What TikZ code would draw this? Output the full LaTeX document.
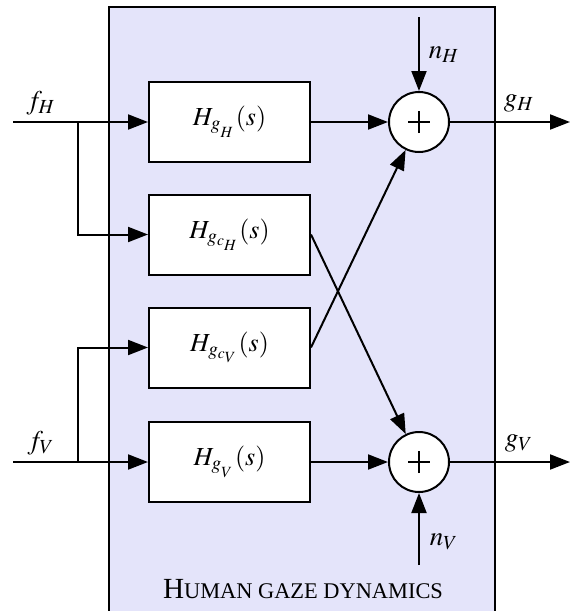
\documentclass[tikz,border=0pt]{standalone}
\usepackage{mathptmx}
\usepackage[no-math]{fontspec}
\setmainfont{Liberation Serif}
\usetikzlibrary{arrows.meta}
\definecolor{bgcol}{RGB}{228,228,250}
\begin{document}
\begin{tikzpicture}[x=0.5pt,y=-0.5pt,
  line width=1pt,
  blk/.style={draw,fill=white,minimum width=80.5pt,minimum height=40pt,inner sep=0pt,font=\fontsize{13}{15}\selectfont},
  sumnode/.style={draw,circle,fill=white,minimum size=30pt,inner sep=0pt},
  arr/.style={-{Triangle[length=10pt,width=7.5pt]}},
  lbl/.style={font=\fontsize{13.5}{15}\selectfont,inner sep=0pt}]
\useasboundingbox (0,0) rectangle (581,611);
\fill[bgcol] (109,7) rectangle (495,620);
\draw (109,620) -- (109,7) -- (495,7) -- (495,620);
% blocks
\node[blk] (b1) at (229.5,122) {$H_{g_{_H}}(s)$};
\node[blk] (b2) at (229.5,234.5) {$H_{g_{c_H}}(s)$};
\node[blk] (b3) at (229.5,347.5) {$H_{g_{c_V}}(s)$};
\node[blk] (b4) at (229.5,462) {$H_{g_{_V}}(s)$};
% summing junctions
\node[sumnode] (s1) at (419,122) {};
\node[sumnode] (s2) at (419,462) {};
\foreach \s in {s1,s2}{
  \draw[line width=0.9pt] ([xshift=-5.5pt]\s.center) -- ([xshift=5.5pt]\s.center);
  \draw[line width=0.9pt] ([yshift=-5.5pt]\s.center) -- ([yshift=5.5pt]\s.center);
}
% coordinates
\coordinate (fHin) at (13,122);
\coordinate (fVin) at (13,462);
\coordinate (jH) at (78,122);
\coordinate (jV) at (78,462);
\coordinate (nHin) at (419,17);
\coordinate (nVin) at (419,565);
\coordinate (gHout) at (570,122);
\coordinate (gVout) at (570,462);
% connectors
\draw[arr] (fHin) -- (b1.west);
\draw[arr] (jH) |- (b2.west);
\draw[arr] (fVin) -- (b4.west);
\draw[arr] (jV) |- (b3.west);
\draw[arr] (b1.east) -- (s1.west);
\draw[arr] (b4.east) -- (s2.west);
\draw[arr] (b2.east) -- (s2);
\draw[arr] (b3.east) -- (s1);
\draw[arr] (nHin) -- (s1.north);
\draw[arr] (nVin) -- (s2.south);
\draw[arr] (s1.east) -- (gHout);
\draw[arr] (s2.east) -- (gVout);
% labels
\node[lbl] (lfH) at (41,103) {$f_H$};
\node[lbl] (lfV) at (41,443) {$f_V$};
\node[lbl] (lgH) at (519,103) {$g_H$};
\node[lbl] (lgV) at (519,443) {$g_V$};
\node[lbl] (lnH) at (444,55) {$n_H$};
\node[lbl] (lnV) at (444,542) {$n_V$};
\node[inner sep=0pt,anchor=base] (title) at (303,598) {{\fontsize{14.6}{17}\selectfont H}{\fontsize{11.2}{13}\selectfont UMAN GAZE DYNAMICS}};
\end{tikzpicture}
\end{document}
